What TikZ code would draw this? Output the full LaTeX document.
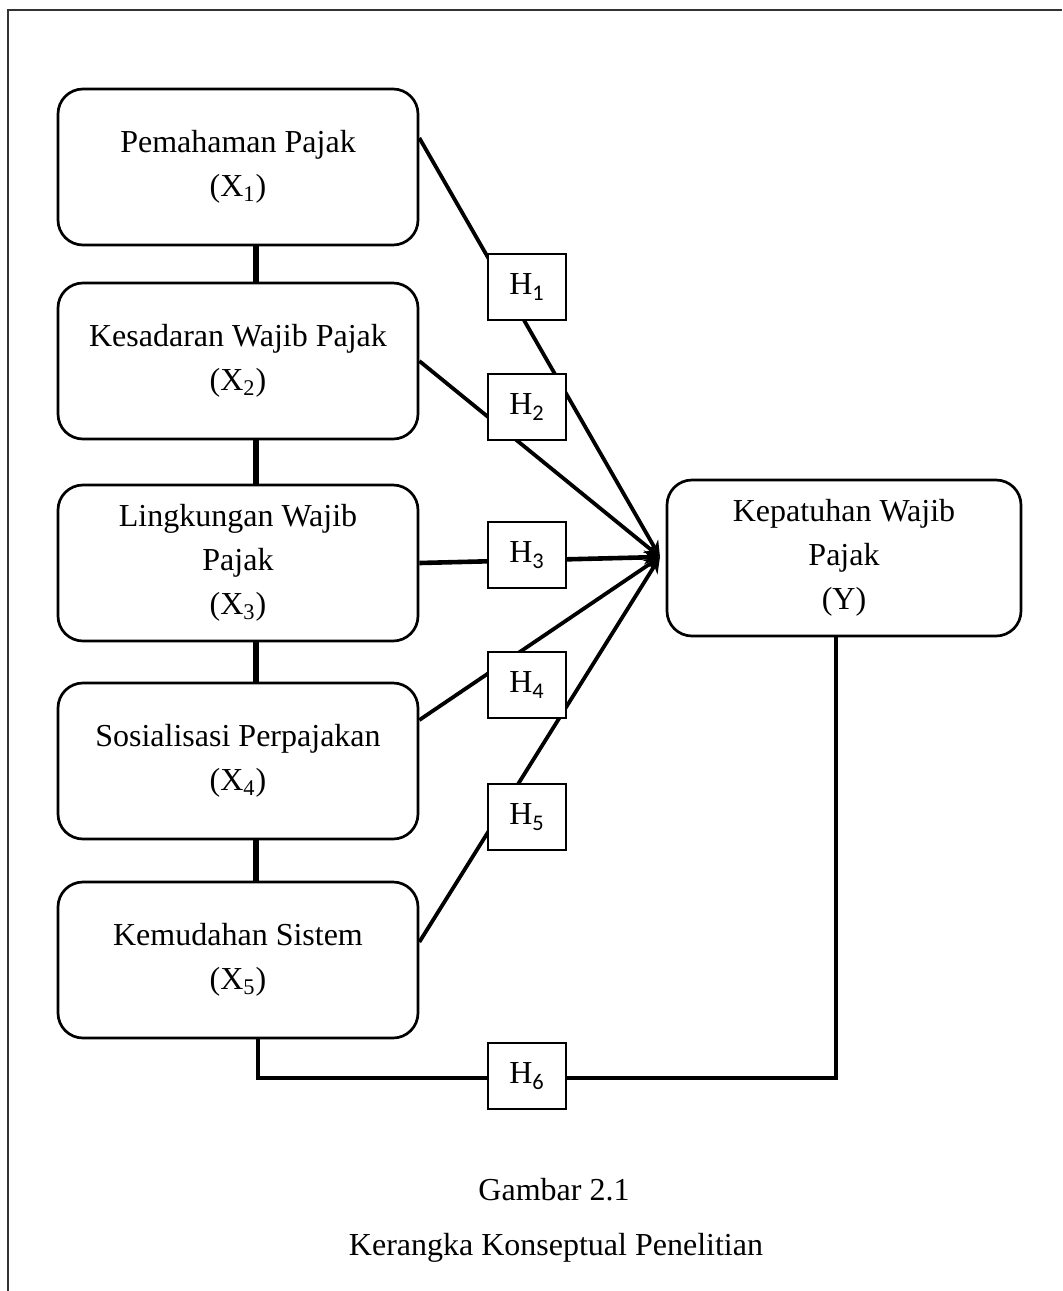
\documentclass[tikz,border=0pt]{standalone}
\usepackage{fontspec}
\setmainfont{Liberation Serif}
\newfontfamily\subfont{Carlito}
\usetikzlibrary{arrows.meta}
\tikzset{
  varbox/.style={draw,rounded corners=12.5pt,line width=1.35pt,minimum width=180pt,minimum height=78pt,align=center},
  hbox/.style={draw,fill=white,line width=0.75pt,minimum width=39pt,minimum height=33pt,inner sep=0pt},
  link/.style={line width=1.9pt},
  arrowlink/.style={link,-{Stealth[length=8pt,width=7pt]}},
}

\begin{document}
\begin{tikzpicture}[x=0.5pt,y=-0.5pt,font=\fontsize{16}{22}\selectfont]
\useasboundingbox(0,0)rectangle(1062,1291);
\draw[line width=0.75pt,black!80](8,1291)|-(1062,10);

% variabel
\node[varbox](x1)at(238,167){Pemahaman Pajak\\(X\textsubscript{1})};
\node[varbox](x2)at(238,361){Kesadaran Wajib Pajak\\(X\textsubscript{2})};
\node[varbox](x3)at(238,563){Lingkungan Wajib\\Pajak\\(X\textsubscript{3})};
\node[varbox](x4)at(238,761){Sosialisasi Perpajakan\\(X\textsubscript{4})};
\node[varbox](x5)at(238,960){Kemudahan Sistem\\(X\textsubscript{5})};
\node[varbox,minimum width=177pt](y)at(844,558){Kepatuhan Wajib\\Pajak\\(Y)};

\coordinate(c)at(660,557);
\coordinate(b)at(836,1078);

\foreach\p/\q in{x1/x2,x2/x3,x3/x4,x4/x5}
  \draw[line width=3pt]([xshift=9pt]\p.south)--([xshift=9pt]\q.north);

\draw[arrowlink]([yshift=14.5pt]x1.east)--(c);
\draw[arrowlink](x2.east)--(c);
\draw[arrowlink,line width=2.3pt](x3.east)--(c);
\draw[arrowlink]([yshift=20.5pt]x4.east)--(c);
\draw[arrowlink]([yshift=9pt]x5.east)--(c);
\draw[line width=2.3pt]([xshift=10pt]x5.south)|-(b)--(b|-y.south);

% hipotesis
\foreach\i/\y in{1/287,2/407,3/555,4/685,5/817,6/1076}
  \node[hbox](h\i)at(527,\y){H\textsubscript{\subfont\i}};

\node(fig)at(554,1190){Gambar 2.1};
\node(title)at(556,1248){Kerangka Konseptual Penelitian};
\end{tikzpicture}
\end{document}
